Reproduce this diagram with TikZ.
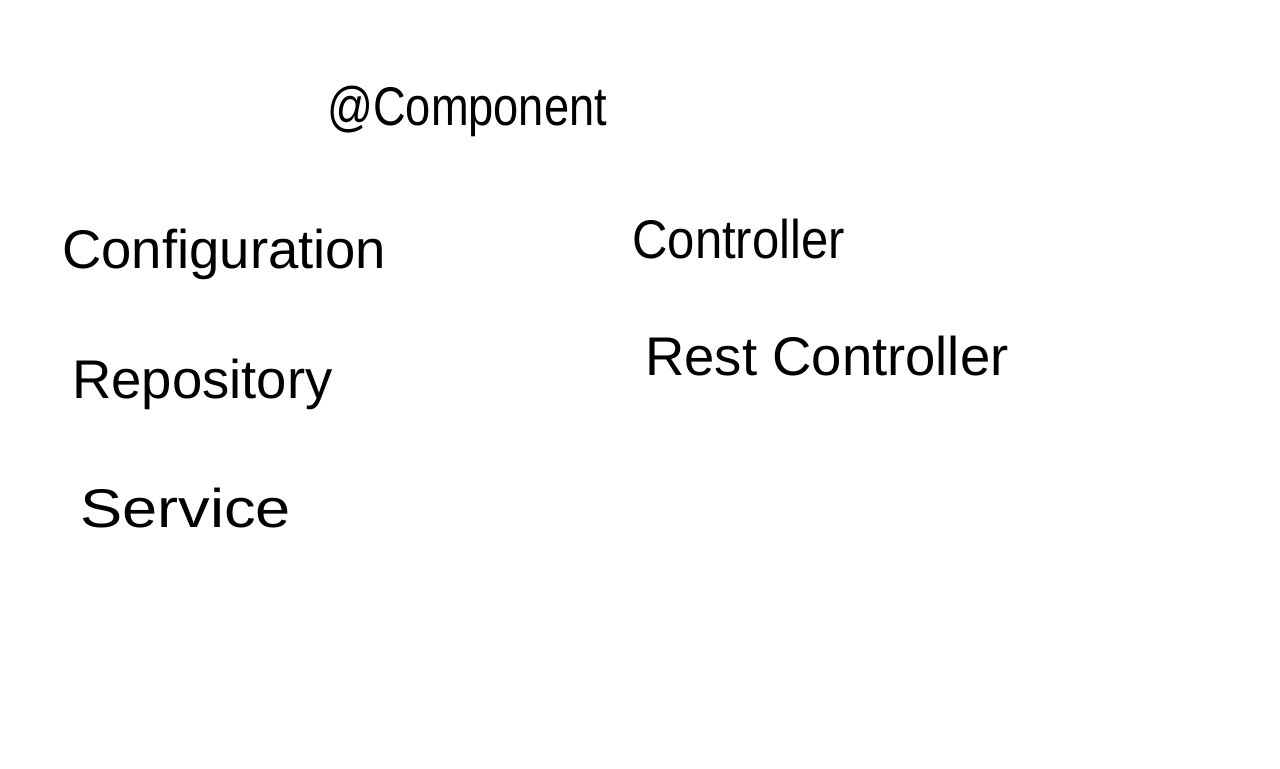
\documentclass[tikz,border=0pt]{standalone}
\usepackage{fontspec}
\setmainfont{Liberation Sans}
\usepackage{tikz}
\tikzstyle{annot}=[
        anchor = base west,
        inner sep = 0pt,
        font = \fontsize{31}{36}\selectfont
    ]

\begin{document}
\begin{tikzpicture}[x=0.02cm, y=-0.02cm]
        \useasboundingbox (0,0) rectangle (1280,768);

        \node[annot] (component) at (327,125) {\scalebox{0.83}[1]{@Component}};
        \node[annot] (config) at (62,268) {Configuration};
        \node[annot] (ctrl) at (632,258) {\scalebox{0.9}[1]{Controller}};
        \node[annot] (repo) at (72,398) {Repository};
        \node[annot] (rest) at (645,375) {Rest Controller};
        \node[annot] (service) at (80,527) {\scalebox{1.16}[1]{Service}};

    \end{tikzpicture}
\end{document}
